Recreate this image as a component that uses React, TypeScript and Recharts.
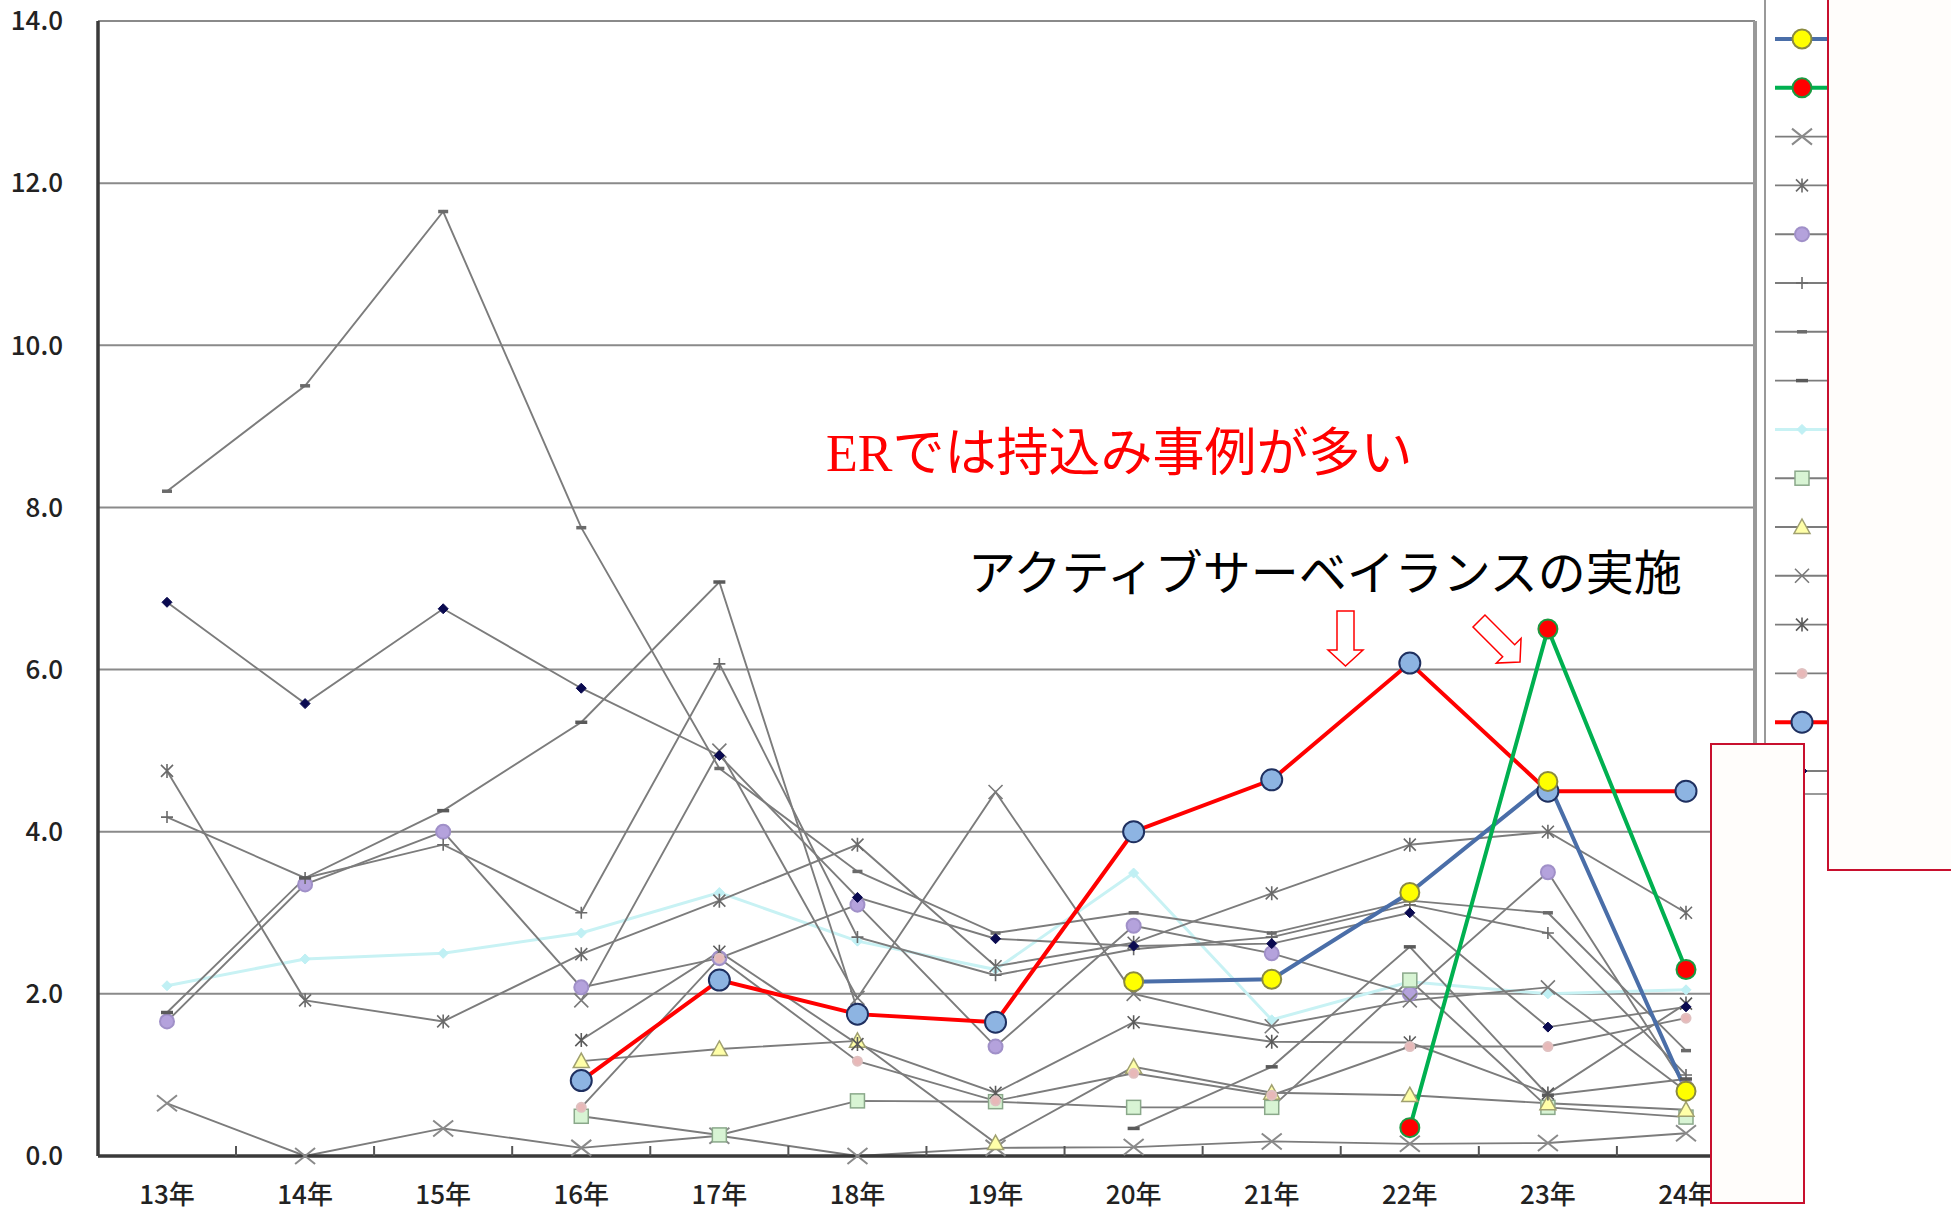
import { LineChart, Line, XAxis, YAxis, CartesianGrid } from "recharts";

// categories
const years = ["13年", "14年", "15年", "16年", "17年", "18年", "19年", "20年", "21年", "22年", "23年", "24年"];
const yTicks = [0, 2, 4, 6, 8, 10, 12, 14];

// series values (one per legend entry, top to bottom)
const seriesA = [null, null, null, null, null, null, null, 2.15, 2.18, 3.25, 4.62, 0.8];
const seriesB = [null, null, null, null, null, null, null, null, null, 0.35, 6.5, 2.3];
const seriesC = [0.65, 0.0, 0.34, 0.1, 0.25, 0.0, 0.1, 0.11, 0.18, 0.15, 0.16, 0.28];
const seriesD = [4.75, 1.92, 1.66, 2.49, 3.15, 3.84, 2.34, 2.63, 3.24, 3.84, 4.0, 3.0];
const seriesE = [1.66, 3.35, 4.0, 2.08, 2.44, 3.1, 1.35, 2.84, 2.5, 2.0, 3.5, 0.85];
const seriesF = [4.18, 3.43, 3.84, 3.0, 6.07, 2.7, 2.23, 2.55, 2.7, 3.1, 2.75, 1.0];
const seriesG = [8.2, 9.5, 11.65, 7.75, 4.78, 3.51, 2.75, 3.0, 2.75, 3.15, 3.0, 1.3];
const seriesH = [1.77, 3.43, 4.26, 5.35, 7.08, 1.8, null, 0.34, 1.1, 2.58, 0.75, 0.95];
const seriesI = [2.1, 2.43, 2.5, 2.75, 3.25, 2.65, 2.3, 3.49, 1.68, 2.15, 2.0, 2.05];
const seriesJ = [null, null, null, 0.49, 0.26, 0.68, 0.67, 0.6, 0.6, 2.17, 0.6, 0.48];
const seriesK = [null, null, null, 1.17, 1.32, 1.42, 0.16, 1.1, 0.78, 0.75, 0.65, 0.57];
const seriesL = [null, null, null, 1.92, 5.0, 1.95, 4.49, 2.0, 1.6, 1.92, 2.08, 0.8];
const seriesM = [null, null, null, 1.43, 2.52, 1.38, 0.78, 1.65, 1.41, 1.4, 0.77, 1.88];
const seriesN = [null, null, null, 0.6, 2.44, 1.17, 0.68, 1.02, 0.75, 1.35, 1.35, 1.7];
const seriesO = [null, null, null, 0.93, 2.17, 1.75, 1.65, 4.0, 4.64, 6.08, 4.5, 4.5];
const seriesP = [6.83, 5.58, 6.75, 5.77, 4.94, 3.19, 2.68, 2.59, 2.62, 3.0, 1.59, 1.84];

const GRAY = "#7c7c7c";

const series = [
  { key: "A", values: seriesA, color: "#4a6ea8", width: 4, marker: "circle", size: 9.5, fill: "#ffff00", stroke: "#8a8a40" },
  { key: "B", values: seriesB, color: "#00b050", width: 4, marker: "circle", size: 9.5, fill: "#ff0000", stroke: "#1a9a40" },
  { key: "C", values: seriesC, color: GRAY, width: 1.9, marker: "bigx", size: 10, fill: "none", stroke: "#8a8a8a" },
  { key: "D", values: seriesD, color: GRAY, width: 1.9, marker: "star", size: 6, fill: "none", stroke: "#6a6a6a" },
  { key: "E", values: seriesE, color: GRAY, width: 1.9, marker: "circle", size: 7, fill: "#b4a2dc", stroke: "#a090c8" },
  { key: "F", values: seriesF, color: GRAY, width: 1.9, marker: "plus", size: 6, fill: "none", stroke: "#6a6a6a" },
  { key: "G", values: seriesG, color: GRAY, width: 1.9, marker: "dash", size: 5, fill: "none", stroke: "#6a6a6a" },
  { key: "H", values: seriesH, color: GRAY, width: 1.9, marker: "dash", size: 6, fill: "none", stroke: "#5a5a5a" },
  { key: "I", values: seriesI, color: "#c8f2f4", width: 3, marker: "diamond", size: 5, fill: "#c0f0f4", stroke: "#c0f0f4" },
  { key: "J", values: seriesJ, color: GRAY, width: 1.9, marker: "square", size: 7, fill: "#d8f4d4", stroke: "#8aa88a" },
  { key: "K", values: seriesK, color: GRAY, width: 1.9, marker: "triangle", size: 8, fill: "#ffffa8", stroke: "#a0a070" },
  { key: "L", values: seriesL, color: GRAY, width: 1.9, marker: "x", size: 7, fill: "none", stroke: "#7a7a7a" },
  { key: "M", values: seriesM, color: GRAY, width: 1.9, marker: "star", size: 6, fill: "none", stroke: "#5a5a5a" },
  { key: "N", values: seriesN, color: GRAY, width: 1.9, marker: "circle", size: 4.5, fill: "#e8b8b8", stroke: "#e0c0c0" },
  { key: "O", values: seriesO, color: "#ff0000", width: 4, marker: "circle", size: 10.5, fill: "#8db4e2", stroke: "#1f3060" },
  { key: "P", values: seriesP, color: GRAY, width: 1.9, marker: "diamond", size: 5, fill: "#0a0a50", stroke: "#0a0a50" },
];

const drawOrder = ["I", "C", "D", "E", "F", "G", "H", "J", "K", "L", "M", "N", "P", "O", "A", "B"];

const rows = years.map((y, i) => {
  const r: any = { year: y };
  series.forEach((s) => (r[s.key] = s.values[i]));
  return r;
});

function Marker({ kind, cx, cy, s, fill, stroke }: any) {
  switch (kind) {
    case "circle":
      return <circle cx={cx} cy={cy} r={s} fill={fill} stroke={stroke} strokeWidth={2} />;
    case "square":
      return <rect x={cx - s} y={cy - s} width={2 * s} height={2 * s} fill={fill} stroke={stroke} strokeWidth={1.5} />;
    case "triangle":
      return (
        <polygon
          points={`${cx},${cy - s} ${cx + s},${cy + s * 0.8} ${cx - s},${cy + s * 0.8}`}
          fill={fill}
          stroke={stroke}
          strokeWidth={1.5}
        />
      );
    case "diamond":
      return (
        <polygon
          points={`${cx},${cy - s} ${cx + s},${cy} ${cx},${cy + s} ${cx - s},${cy}`}
          fill={fill}
          stroke={stroke}
          strokeWidth={1}
        />
      );
    case "bigx":
      return (
        <path
          d={`M${cx - s},${cy - s * 0.8}L${cx + s},${cy + s * 0.8}M${cx - s},${cy + s * 0.8}L${cx + s},${cy - s * 0.8}`}
          stroke={stroke}
          strokeWidth={2}
        />
      );
    case "x":
      return <path d={`M${cx - s},${cy - s}L${cx + s},${cy + s}M${cx - s},${cy + s}L${cx + s},${cy - s}`} stroke={stroke} strokeWidth={1.6} />;
    case "star":
      return (
        <path
          d={`M${cx - s},${cy - s}L${cx + s},${cy + s}M${cx - s},${cy + s}L${cx + s},${cy - s}M${cx},${cy - s - 1}L${cx},${cy + s + 1}`}
          stroke={stroke}
          strokeWidth={1.6}
        />
      );
    case "plus":
      return <path d={`M${cx},${cy - s}L${cx},${cy + s}M${cx - s},${cy}L${cx + s},${cy}`} stroke={stroke} strokeWidth={1.6} />;
    case "dash":
      return <path d={`M${cx - s},${cy}L${cx + s},${cy}`} stroke={stroke} strokeWidth={3.5} />;
  }
  return null;
}

const HALF_BAND = 69;

function XTick(p: any) {
  const { x, y, payload, index } = p;
  return (
    <g>
      {index < years.length - 1 && (
        <line x1={x + HALF_BAND} x2={x + HALF_BAND} y1={y - 8} y2={y - 18} stroke="#555" strokeWidth={2} />
      )}
      <text x={x} y={y + 40} textAnchor="middle" fontSize={26} fontWeight={500} fill="#222" fontFamily="'Noto Sans CJK JP'">
        {payload.value}
      </text>
    </g>
  );
}

function arrowPoints(tx: number, ty: number, len: number, deg: number) {
  const pts = [
    [-8.5, -len], [8.5, -len], [8.5, -16], [17.5, -16], [0, 0], [-17.5, -16], [-8.5, -16],
  ];
  const a = (deg * Math.PI) / 180;
  return pts
    .map(([x, y]) => `${tx + x * Math.cos(a) - y * Math.sin(a)},${ty + x * Math.sin(a) + y * Math.cos(a)}`)
    .join(" ");
}

export default function App() {
  return (
    <div style={{ position: "absolute", left: 0, top: 0, width: 1951, height: 1210, background: "#fff" }}>
      <LineChart width={1951} height={1210} data={rows} margin={{ top: 21, right: 195, bottom: 4, left: 38 }}>
        <CartesianGrid vertical={false} stroke="#8a8a8a" strokeWidth={2} />
        <XAxis
          dataKey="year"
          padding={{ left: HALF_BAND, right: HALF_BAND }}
          height={50}
          interval={0}
          axisLine={{ stroke: "#3a3a3a", strokeWidth: 3.5 }}
          tickLine={false}
          tick={<XTick />}
        />
        <YAxis
          domain={[0, 14]}
          ticks={yTicks}
          width={60}
          tickSize={6}
          tickMargin={29}
          tickLine={false}
          axisLine={{ stroke: "#3a3a3a", strokeWidth: 3.5 }}
          tickFormatter={(v: number) => v.toFixed(1)}
          tick={{ fontSize: 26, fontWeight: 500, fill: "#222", fontFamily: "'Noto Sans CJK JP'" }}
        />
        <YAxis
          yAxisId="r"
          orientation="right"
          domain={[0, 14]}
          width={1}
          tick={false}
          tickLine={false}
          axisLine={{ stroke: "#999", strokeWidth: 4 }}
        />
        {drawOrder.map((k) => {
          const s = series.find((q) => q.key === k)!;
          return (
            <Line
              key={k}
              dataKey={k}
              stroke={s.color}
              strokeWidth={s.width}
              isAnimationActive={false}
              activeDot={false}
              dot={(p: any) =>
                p.cx == null || p.cy == null || p.value == null ? (
                  <g key={`${k}-${p.index}`} />
                ) : (
                  <g key={`${k}-${p.index}`}>
                    <Marker kind={s.marker} cx={p.cx} cy={p.cy} s={s.size} fill={s.fill} stroke={s.stroke} />
                  </g>
                )
              }
            />
          );
        })}
      </LineChart>

      <svg width={1951} height={1210} style={{ position: "absolute", left: 0, top: 0, pointerEvents: "none" }}>
        <text x={826} y={471} fontSize={52} fill="#ff0000" fontFamily="'Liberation Serif', 'Noto Sans CJK JP'">
          ERでは持込み事例が多い
        </text>
        <text x={968} y={590} fontSize={48} fill="#000" fontFamily="'Noto Sans CJK JP'">
          アクティブサーベイランスの実施
        </text>
        <polygon points={arrowPoints(1345.5, 666, 55, 0)} fill="#fff" stroke="#ff0000" strokeWidth={1.5} />
        <polygon points={arrowPoints(1520, 662, 58, -45)} fill="#fff" stroke="#ff0000" strokeWidth={1.5} />

        {/* legend */}
        <rect x={1765} y={-10} width={120} height={804} fill="#fff" stroke="#999" strokeWidth={2} />
        {series.map((s, i) => {
          const ly = 39 + i * 48.8;
          return (
            <g key={s.key}>
              <line x1={1775} x2={1840} y1={ly} y2={ly} stroke={s.color} strokeWidth={s.width} />
              <Marker kind={s.marker} cx={1802} cy={ly} s={s.size} fill={s.fill} stroke={s.stroke} />
            </g>
          );
        })}

        {/* cover boxes */}
        <rect x={1828} y={-10} width={140} height={880} fill="#fffdfb" stroke="#c8102e" strokeWidth={2} />
        <rect x={1711} y={744} width={93} height={459} fill="#fffdfb" stroke="#c8102e" strokeWidth={2} />
      </svg>
    </div>
  );
}
